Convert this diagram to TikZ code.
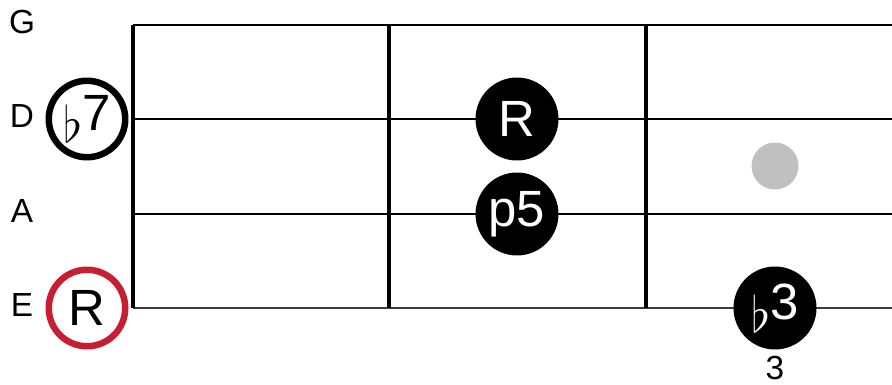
\documentclass[tikz,border=0pt]{standalone}
\usepackage{fontspec}
\setmainfont{Liberation Sans}
\usetikzlibrary{positioning}
\definecolor{rootred}{RGB}{200,30,50}
\definecolor{markgray}{RGB}{192,192,192}
\definecolor{stringgray}{RGB}{60,60,60}
\newcommand{\flt}{\raisebox{-0.25em}{\scalebox{1.15}{$\flat$}}}

\begin{document}
\begin{tikzpicture}[x=0.02cm, y=-0.02cm,
    stringlabel/.style={font=\fontsize{19}{19}\selectfont, inner sep=0},
    note/.style={circle, fill=black, text=white, minimum size=1.66cm, inner sep=0,
        font=\fontsize{29}{29}\selectfont},
    opennote/.style={circle, draw=#1, line width=0.13cm, fill=white, minimum size=1.53cm,
        inner sep=0, font=\fontsize{29}{29}\selectfont},
    fretmark/.style={circle, fill=markgray, minimum size=0.94cm, inner sep=0}]
    \useasboundingbox (0,0) rectangle (892,385);

    % strings
    \draw[line width=0.7pt] (133,25) -- (892,25);
    \draw[line width=0.7pt] (133,119) -- (892,119);
    \draw[line width=0.7pt] (133,214) -- (892,214);
    \draw[line width=1.1pt, stringgray] (133,308) -- (892,308);

    % nut and frets
    \draw[line width=2.4pt] (133,25) -- (133,308);
    \draw[line width=1.8pt] (389,25) -- (389,308);
    \draw[line width=1.8pt] (646,25) -- (646,308);

    % string names
    \node[stringlabel] (sG) at (22,22) {G};
    \node[stringlabel] (sD) at (22,116) {D};
    \node[stringlabel] (sA) at (22,211) {A};
    \node[stringlabel] (sE) at (22,305) {E};

    % open strings
    \node[opennote=black] (openD) at (87,119) {\flt7};
    \node[opennote=rootred] (openE) at (87,308) {R};

    % fretted notes
    \node[note] (root) at (517,119) {R};
    \node[note] (fifth) at (517,214) {p5};
    \node[note] (third) at (775,308) {\flt3};

    % fret marker and fret number
    \node[fretmark] (mark3) at (775,166) {};
    \node[stringlabel] (fret3) at (775,368) {3};
\end{tikzpicture}
\end{document}
